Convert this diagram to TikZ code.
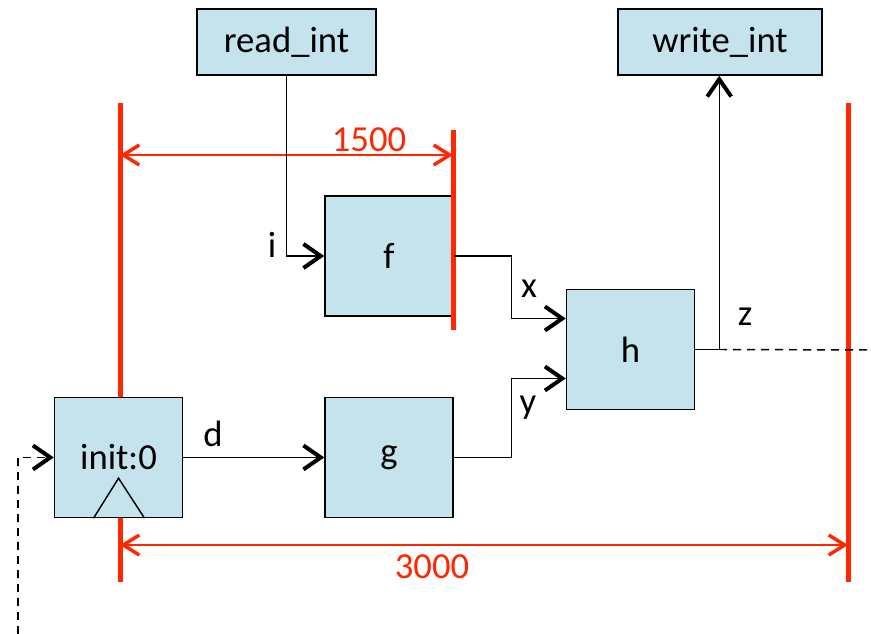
\documentclass[tikz,border=0pt]{standalone}
\usepackage{fontspec}
\setmainfont{Carlito}
\usetikzlibrary{positioning,arrows.meta,calc}
\definecolor{boxblue}{RGB}{197,227,236}
\definecolor{barred}{RGB}{255,38,0}

\begin{document}
\begin{tikzpicture}[
  x=0.75pt, y=-0.75pt,
  every node/.style={font=\fontsize{27.5}{32}\selectfont},
  blk/.style={draw, line width=1.1pt, fill=boxblue, inner sep=0pt,
              minimum width=96pt, minimum height=90pt},
  io/.style ={draw, line width=1.1pt, fill=boxblue, inner sep=0pt,
              minimum height=49.5pt},
  arr/.style={-{Straight Barb[length=13pt,width=18pt,line width=3pt]},
              line width=1.1pt},
  fb/.style ={arr, dash pattern=on 6pt off 4.5pt},
  bar/.style={barred, line width=3.75pt},
  span/.style={{Straight Barb[length=12pt,width=15pt,line width=2.6pt]}-%
               {Straight Barb[length=12pt,width=15pt,line width=2.6pt]},
               barred, line width=1.2pt},
  lbl/.style={inner sep=0pt},
  node distance=0.5cm
]
\useasboundingbox (0,0) rectangle (871,634);

%% --- Time bars (behind the blocks) ---------------------------
\coordinate (bar1t) at (120,103);
\coordinate (bar1b) at (120,582);
\coordinate (bar3t) at (848,103);
\coordinate (bar3b) at (848,582);
\draw[bar] (bar1t) -- (bar1b);
\draw[bar] (bar3t) -- (bar3b);

%% --- I/O blocks ----------------------------------------------
\node[io, minimum width=134.25pt] (rd) at (286.5,42) {read\_int};
\node[io, minimum width=153pt]    (wr) at (720,42)   {write\_int};

%% --- Computation blocks --------------------------------------
\node[blk] (f) at (389,256) {f};
\node[blk, below=60pt of f] (g) {g};
\node[blk, left=105.75pt of g] (init) {init:0};
\node[blk] (h) at (630.5,349.5) {h};

\draw[line width=1.1pt] ($(init.south)+(-25,0)$) -- ($(init.south)+(0,-40)$)
      -- ($(init.south)+(26,0)$);

%% --- Bar at the output of f ----------------------------------
\coordinate (bar2t) at (453,130);
\coordinate (bar2b) at (453,330);
\draw[bar] (bar2t) -- (bar2b);

%% --- Periods -------------------------------------------------
\coordinate (s1l) at (120,155);
\coordinate (s1r) at (453,155);
\draw[span] (s1l) -- (s1r);
\node[lbl, text=barred] (t1500) at (369,140) {1500};

\coordinate (s2l) at (120,545);
\coordinate (s2r) at (848,545);
\draw[span] (s2l) -- (s2r);
\node[lbl, text=barred] (t3000) at (432,567) {3000};

%% --- Data flow -----------------------------------------------
\coordinate (hx) at ($(h.west)+(0,-31)$);
\coordinate (hy) at ($(h.west)+(0,29)$);

\draw[arr] (rd.south) |- (f.west);
\draw[arr] (f.east) -- ++(58,0) |- (hx);
\draw[arr] (g.east) -- ++(58,0) |- (hy);
\draw[arr] (init.east) -- (g.west);
\draw[arr] (h.east) -- ++(24,0) coordinate (hz) -- (hz |- wr.south);

\coordinate (zout) at (871,350);
\draw[line width=1.1pt, dash pattern=on 6pt off 4.5pt] (hz) -- (zout);

\coordinate (fbin) at (18,634);
\draw[fb] (fbin) |- (init.west);

%% --- Signal names --------------------------------------------
\node[lbl] (li) at (272,245) {i};
\node[lbl] (lx) at (529,289) {x};
\node[lbl] (ly) at (528,408) {y};
\node[lbl] (ld) at (213,434) {d};
\node[lbl] (lz) at (745,317) {z};

\end{tikzpicture}
\end{document}
